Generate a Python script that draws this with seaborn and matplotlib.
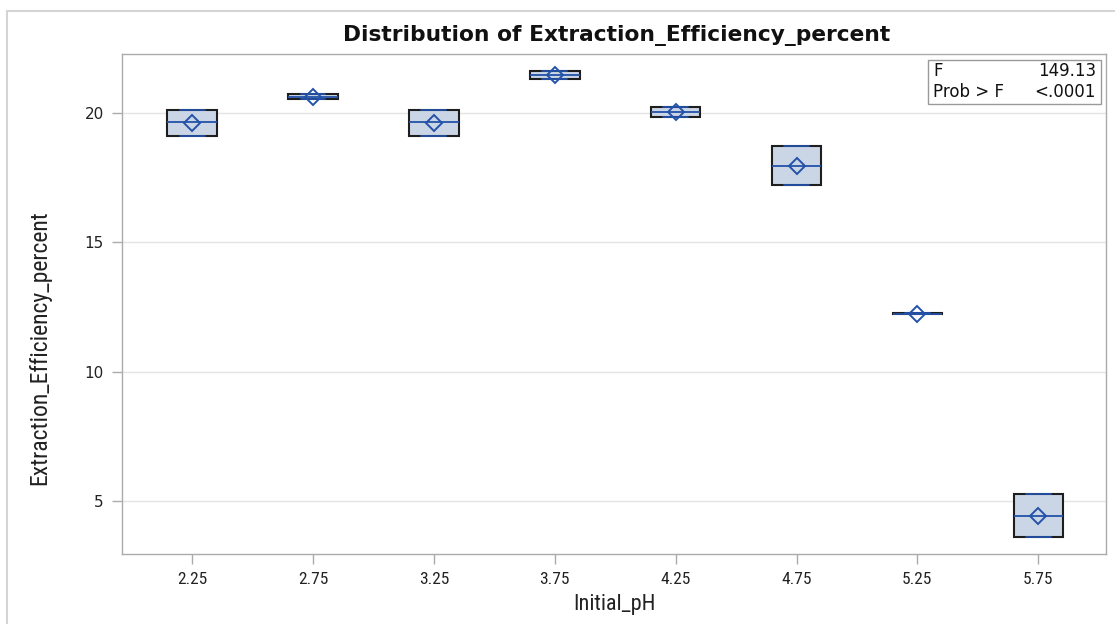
import numpy as np
import pandas as pd
import matplotlib
matplotlib.use("Agg")
import matplotlib.pyplot as plt
from matplotlib.patches import Rectangle
import seaborn as sns

# ---- data ----
ph_levels = ["2.25", "2.75", "3.25", "3.75", "4.25", "4.75", "5.25", "5.75"]
eff_low = [19.11, 20.55, 19.11, 21.30, 19.86, 17.21, 12.22, 3.61]
eff_mid = [19.64, 20.63, 19.64, 21.47, 20.04, 17.96, 12.24, 4.42]
eff_high = [20.12, 20.72, 20.12, 21.64, 20.22, 18.71, 12.26, 5.26]
y_ticks = [5, 10, 15, 20]
f_value = "149.13"
p_value = "<.0001"

xcol = "Initial_pH"
ycol = "Extraction_Efficiency_percent"

# observations (3 per group)
obs = pd.DataFrame(
    [(p, v) for p, lo, md, hi in zip(ph_levels, eff_low, eff_mid, eff_high) for v in (lo, md, hi)],
    columns=[xcol, ycol],
)
# SAS quartile definition for n=3 puts Q1/Q3 on min/max; weight the extremes so the
# box statistics computed by seaborn match that definition
box_df = pd.DataFrame(
    [(p, v) for p, lo, md, hi in zip(ph_levels, eff_low, eff_mid, eff_high) for v in (lo, lo, md, hi, hi)],
    columns=[xcol, ycol],
)

sns.set_theme(style="white")
plt.rcParams["font.family"] = ["DejaVu Sans"]

NARROW = ["Roboto Condensed", "DejaVu Sans"]

W, H = 1115, 624
fig = plt.figure(figsize=(W / 100, H / 100), dpi=100)
ax = fig.add_axes([122 / W, 1 - 554 / H, (1106 - 122) / W, (554 - 54) / H])

fill = "#CAD5E6"
blue = "#2352A8"
edge = "#1E1E1E"

sns.boxplot(
    data=box_df, x=xcol, y=ycol, order=ph_levels, ax=ax,
    width=0.41, color=fill, saturation=1, linecolor=edge, linewidth=1.5,
    fliersize=0, whis=1.5,
    medianprops=dict(color=blue, linewidth=1.3),
    capprops=dict(color=blue, linewidth=1.3),
    whiskerprops=dict(color=blue, linewidth=1.3),
)
sns.pointplot(
    data=obs, x=xcol, y=ycol, order=ph_levels, ax=ax,
    estimator="mean", errorbar=None, color=blue, markers="D", linestyle="none",
    markersize=8.5, markerfacecolor="none", markeredgecolor=blue, markeredgewidth=1.4,
)

ax.set_xlim(-0.58, 7.56)
ax.set_ylim(2.95, 22.28)
ax.set_yticks(y_ticks)
ax.set_yticklabels([str(t) for t in y_ticks])
ax.yaxis.grid(True, color="#E4E4E4", linewidth=1)
ax.xaxis.grid(False)
ax.set_axisbelow(True)
for s in ax.spines.values():
    s.set_color("#ABABAB")
    s.set_linewidth(1.0)
ax.tick_params(axis="both", which="major", length=7, width=1, color="#ABABAB",
               pad=6, left=True, bottom=True)
ax.tick_params(axis="y", labelsize=11, labelcolor="#222222")
ax.tick_params(axis="x", labelsize=12.5, labelcolor="#222222")
for lab in ax.get_xticklabels():
    lab.set_family(NARROW)
    lab.set_stretch("condensed")

ax.set_xlabel(xcol, fontsize=16, color="#222222", labelpad=5,
              family=NARROW, stretch="condensed")
ax.set_ylabel(ycol, fontsize=17, color="#222222",
              family=NARROW, stretch="condensed")
ax.yaxis.label.set_va("center")
ax.yaxis.set_label_coords((40 - 122) / 984, (554 - 348) / 500)

fig.text(617 / W, 1 - 36 / H, "Distribution of " + ycol, ha="center", va="center",
         fontsize=15.7, fontweight="bold", color="#111111")

# statistics inset
fig.patches.append(Rectangle((928 / W, 1 - 104 / H), (1101 - 928) / W, 44 / H,
                             transform=fig.transFigure, facecolor="white",
                             edgecolor="#9A9A9A", linewidth=1, zorder=5))
fs_in = 12
fig.text(933 / W, 1 - 71 / H, "F", ha="left", va="center", fontsize=fs_in, zorder=6, color="#111111")
fig.text(1096 / W, 1 - 71 / H, f_value, ha="right", va="center", fontsize=fs_in, zorder=6, color="#111111")
fig.text(933 / W, 1 - 92 / H, "Prob > F", ha="left", va="center", fontsize=fs_in, zorder=6, color="#111111")
fig.text(1096 / W, 1 - 92 / H, p_value, ha="right", va="center", fontsize=fs_in, zorder=6, color="#111111")

# outer frame of the graph
fig.patches.append(Rectangle((7 / W, -0.1), 2, 1.1 - 11 / H, transform=fig.transFigure,
                             facecolor="none", edgecolor="#D4D4D4", linewidth=1.5))

fig.savefig("out.png", dpi=100)
